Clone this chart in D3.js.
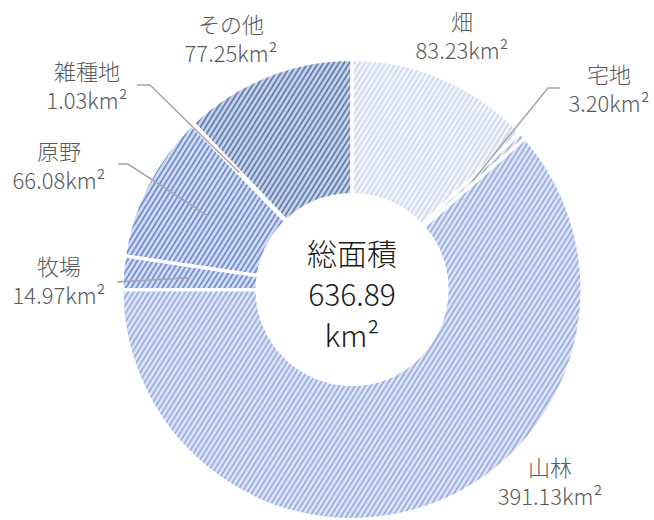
<!DOCTYPE html>
<html>
<head>
<meta charset="utf-8">
<script src="https://cdn.jsdelivr.net/npm/d3@7"></script>
<style>
  html, body { margin: 0; padding: 0; background: #ffffff; }
  svg { display: block; }
  text { font-family: "Noto Sans CJK JP", "Noto Sans", sans-serif; font-weight: 300; }
</style>
</head>
<body>
<svg id="chart" width="654" height="520"></svg>
<script>
// ---- data ----
const categories = ["畑", "宅地", "山林", "牧場", "原野", "雑種地", "その他"];
const values = [83.23, 3.20, 391.13, 14.97, 66.08, 1.03, 77.25];
const unit = "km²";
const centerTitle = "総面積";

// ---- styles (separate from data) ----
const bgColors   = ["#eceff9", "#d2dbf2", "#cbd6f1", "#bfcdee", "#bccbec", "#adc0e3", "#aabde2"];
const lineColors = ["#bcc7ea", "#7990d6", "#6d88d6", "#355ec2", "#3159bd", "#244c94", "#1f4589"];

// label layout: [labelX, labelY(first line), leader path start points (or null)]
const labelLayout = [
  { x: 462, y: 22,  leader: null },
  { x: 609, y: 75,  leader: [[560, 88], [548, 88]] },
  { x: 550, y: 468, leader: null },
  { x: 59,  y: 267, leader: [[117, 282]] },
  { x: 59,  y: 152, leader: [[118, 164], [128, 164]] },
  { x: 87,  y: 72,  leader: [[137, 85], [150, 85]] },
  { x: 231, y: 25,  leader: null }
];

const width = 654, height = 520;
const cx = 352, cy = 289.5;
const outerR = 230, innerR = 95;

const svg = d3.select("#chart");
const defs = svg.append("defs");

// patterns
categories.forEach((c, i) => {
  const p = defs.append("pattern")
    .attr("id", "pat" + i)
    .attr("patternUnits", "userSpaceOnUse")
    .attr("width", 4.4).attr("height", 8)
    .attr("patternTransform", "rotate(32)");
  p.append("rect").attr("width", 4.4).attr("height", 8).attr("fill", bgColors[i]);
  p.append("rect").attr("x", 0).attr("y", 0).attr("width", 1.8).attr("height", 8).attr("fill", lineColors[i]);
});

// soft bevel gradient
const rg = defs.append("radialGradient")
  .attr("id", "bevel")
  .attr("gradientUnits", "userSpaceOnUse")
  .attr("cx", cx).attr("cy", cy).attr("r", outerR);
[[innerR / outerR, 0.28], [0.5, 0.0], [0.88, 0.0], [1, 0.32]].forEach(([o, a]) => {
  rg.append("stop").attr("offset", o).attr("stop-color", "#ffffff").attr("stop-opacity", a);
});

const pie = d3.pie().sort(null).value(d => d)(values);
const arc = d3.arc().innerRadius(innerR).outerRadius(outerR);

const g = svg.append("g").attr("transform", `translate(${cx},${cy})`);

g.selectAll("path.slice")
  .data(pie)
  .join("path")
  .attr("class", "slice")
  .attr("d", arc)
  .attr("fill", (d, i) => `url(#pat${i})`);

// bevel overlay on the ring
svg.append("path")
  .attr("d", d3.arc().innerRadius(innerR).outerRadius(outerR)({ startAngle: 0, endAngle: 2 * Math.PI }))
  .attr("transform", `translate(${cx},${cy})`)
  .attr("fill", "url(#bevel)");

// white separators drawn on top
const sepG = svg.append("g").attr("transform", `translate(${cx},${cy})`);
sepG.selectAll("path.sep")
  .data(pie)
  .join("path")
  .attr("class", "sep")
  .attr("d", arc)
  .attr("fill", "none")
  .attr("stroke", "#ffffff")
  .attr("stroke-width", 3.2)
  .attr("stroke-linejoin", "miter");

// leader lines
const line = d3.line();
pie.forEach((d, i) => {
  const lay = labelLayout[i];
  if (!lay.leader) return;
  const c = arc.centroid(d);
  const pts = lay.leader.concat([[c[0] + cx, c[1] + cy]]);
  svg.append("path")
    .attr("d", line(pts))
    .attr("fill", "none")
    .attr("stroke", "#a6a6a6")
    .attr("stroke-width", 1.5);
});

// labels
const fmt = d3.format(".2f");
pie.forEach((d, i) => {
  const lay = labelLayout[i];
  const t = svg.append("text")
    .attr("text-anchor", "middle")
    .attr("fill", "#595959")
    .attr("font-size", 22);
  t.append("tspan").attr("x", lay.x).attr("y", lay.y).attr("dy", "0.36em").text(categories[i]);
  t.append("tspan").attr("x", lay.x).attr("y", lay.y + 29).attr("dy", "0.36em").text(fmt(values[i]) + unit);
});

// center text
const total = d3.sum(values);
const centerLines = [centerTitle, fmt(total), unit];
svg.append("text")
  .attr("text-anchor", "middle")
  .attr("fill", "#1a1a1a")
  .attr("font-size", 30)
  .selectAll("tspan")
  .data(centerLines)
  .join("tspan")
  .attr("x", cx)
  .attr("y", (d, i) => 254 + i * 41)
  .attr("dy", "0.36em")
  .text(d => d);
</script>
</body>
</html>
